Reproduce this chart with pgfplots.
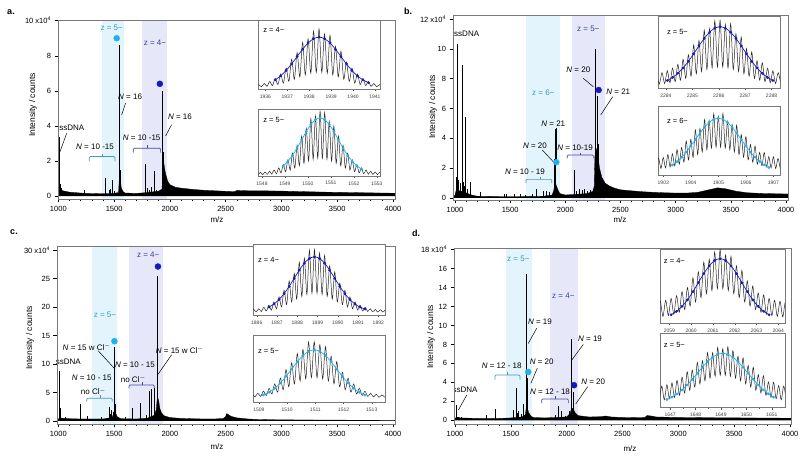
\documentclass[border=0pt]{standalone}
\usepackage{pgfplots}
\pgfplotsset{compat=1.18}
\usepackage{fontspec}
\setmainfont{Liberation Sans}
\definecolor{cyanband}{RGB}{228,244,252}
\definecolor{navyband}{RGB}{230,232,250}
\definecolor{cyandot}{RGB}{35,175,235}
\definecolor{navydot}{RGB}{25,25,185}
\definecolor{cyantxt}{RGB}{45,155,210}
\definecolor{navytxt}{RGB}{55,65,150}
\definecolor{cyanbr}{RGB}{70,150,200}
\definecolor{navybr}{RGB}{70,70,160}
\definecolor{frame}{RGB}{120,120,120}
\pgfplotsset{
 mainax/.style={scale only axis, anchor=south west, axis on top, clip=true,
  axis line style={frame, line width=0.7pt},
  tick align=outside, tick pos=left,
  major tick length=3.5pt, minor tick length=2pt,
  tick style={black, line width=0.5pt},
  xtick={1000,1500,...,4000}, minor x tick num=4,
  ticklabel style={font=\fontsize{7.5}{9}\selectfont},
  /pgf/number format/assume math mode=true,
  /pgf/number format/1000 sep={}},
 inset/.style={scale only axis, anchor=south west, clip=true,
  axis background/.style={fill=white},
  axis line style={frame, line width=0.9pt},
  tick align=outside, xtick pos=bottom, ytick=\empty,
  major tick length=2pt, minor tick length=1.2pt, minor x tick num=1,
  tick style={black!70, line width=0.4pt},
  ticklabel style={font=\fontsize{5}{6}\selectfont, text=black!75},
  /pgf/number format/assume math mode=true,
  /pgf/number format/1000 sep={},
  ymin=0, ymax=1},
 trace/.style={black!85, line width=0.5pt, smooth, mark=none},
 envn/.style={navydot, line width=0.7pt, smooth, mark=*, mark size=1pt, mark options={fill=navydot, draw=navydot}},
 envc/.style={cyandot, line width=0.7pt, smooth, mark=*, mark size=1pt, mark options={fill=cyandot, draw=cyandot}},
 spec/.style={fill=black, draw=black, line width=0.3pt, mark=none},
 peaks/.style={ycomb, black, line width=0.75pt, mark=none},
 band/.style={draw=none, mark=none, forget plot},
}
\tikzset{
 lab/.style={font=\fontsize{8}{9.6}\selectfont, inner sep=0.5pt},
 ilab/.style={font=\fontsize{7.5}{9}\selectfont, inner sep=0pt, anchor=west},
 ld/.style={black, line width=0.5pt},
 brc/.style={cyanbr, line width=0.7pt, rounded corners=1pt},
 brn/.style={navybr, line width=0.7pt, rounded corners=1pt},
}
\begin{document}
\begin{tikzpicture}
\useasboundingbox (0pt,0pt) rectangle (803pt,457pt);

% ================= PANEL A =================
\begin{axis}[mainax, at={(58pt,258pt)}, width=337pt, height=179pt,
 xmin=997, xmax=4018, ymin=-0.17, ymax=10.04,
 ytick={0,2,4,6,8,10}, yticklabels={0,2,4,6,8,{10 x10\textsuperscript{4}}}]
\addplot[band, fill=cyanband] coordinates {(1394,-0.17) (1394,10.04) (1591,10.04) (1591,-0.17)};
\addplot[band, fill=navyband] coordinates {(1752,-0.17) (1752,10.04) (1970,10.04) (1970,-0.17)};
\addplot[spec] coordinates {(997,0) (1000,0.3) (1005,0.45) (1020,0.35) (1040,0.3) (1100,0.22) (1200,0.17) (1300,0.14) (1400,0.13) (1500,0.15) (1540,0.2) (1548,1.2) (1555,0.9) (1565,0.45) (1580,0.25) (1600,0.17) (1700,0.15) (1800,0.2) (1900,0.28) (1930,0.4) (1937,2.3) (1945,1.9) (1960,1.3) (1980,0.85) (2000,0.65) (2050,0.5) (2100,0.45) (2200,0.38) (2300,0.33) (2400,0.3) (2500,0.27) (2580,0.25) (2600,0.32) (2700,0.3) (2800,0.3) (2900,0.29) (3000,0.28) (3200,0.25) (3400,0.22) (3600,0.2) (3800,0.18) (4000,0.16) (4018,0.16) (4018,0)};
\addplot[peaks] coordinates {(1010,3.35) (1018,0.7) (1030,0.45) (1230,0.35) (1420,1.05) (1455,0.35) (1470,0.4) (1484,0.92) (1500,0.3) (1545,8.6) (1552,1.5) (1776,1.8) (1800,0.45) (1820,0.35) (1835,0.5) (1857,1.4) (1875,0.35) (1900,0.3) (1937,6.0) (1942,2.5)};
\addplot[only marks, mark=*, mark size=3pt, cyandot] coordinates {(1523,9.0)};
\addplot[only marks, mark=*, mark size=3pt, navydot] coordinates {(1910,6.4)};
\node[lab,text=cyantxt] at (axis cs:1478,9.58) {z = 5−};
\node[lab,text=navytxt] at (axis cs:1866,8.72) {z = 4−};
\node[lab] at (axis cs:1643,5.67) {\textit{N} = 16};
\draw[ld] (axis cs:1603,5.3) -- (axis cs:1568,4.63);
\node[lab] at (axis cs:2090,4.5) {\textit{N} = 16};
\draw[ld] (axis cs:2015,4.06) -- (axis cs:1962,3.43);
\node[lab] at (axis cs:1120,3.87) {ssDNA};
\draw[ld] (axis cs:1075,3.58) -- (axis cs:1015,2.53);
\node[lab] at (axis cs:1329,2.82) {\textit{N} = 10 -15};
\draw[brc] (axis cs:1278,1.97) -- (axis cs:1278,2.25) -- (axis cs:1508,2.25) -- (axis cs:1508,1.97);
\draw[brc] (axis cs:1393,2.25) -- (axis cs:1393,2.42);
\node[lab] at (axis cs:1747,3.3) {\textit{N} = 10 -15};
\draw[brn] (axis cs:1671,2.47) -- (axis cs:1671,2.72) -- (axis cs:1917,2.72) -- (axis cs:1917,2.47);
\draw[brn] (axis cs:1794,2.72) -- (axis cs:1794,2.9);
\end{axis}

\begin{axis}[inset, at={(258.3pt,367.7pt)}, width=121.7pt, height=68.6pt, xmin=1935.68, xmax=1941.23, xtick={1936,1937,1938,1939,1940,1941}]
\addplot[trace] coordinates {(1935.575,0.03)(1935.70,0.068)(1935.825,0.037)(1935.95,0.085)(1936.075,0.044)(1936.20,0.114)(1936.325,0.054)(1936.45,0.158)(1936.575,0.069)(1936.70,0.223)(1936.825,0.090)(1936.95,0.310)(1937.075,0.116)(1937.20,0.436)(1937.325,0.147)(1937.45,0.535)(1937.575,0.180)(1937.70,0.684)(1937.825,0.210)(1937.95,0.736)(1938.075,0.234)(1938.20,0.845)(1938.325,0.247)(1938.45,0.88)(1938.575,0.247)(1938.70,0.805)(1938.825,0.234)(1938.95,0.786)(1939.075,0.210)(1939.20,0.624)(1939.325,0.180)(1939.45,0.555)(1939.575,0.147)(1939.70,0.396)(1939.825,0.116)(1939.95,0.310)(1940.075,0.090)(1940.20,0.223)(1940.325,0.069)(1940.45,0.158)(1940.575,0.054)(1940.70,0.114)(1940.825,0.044)(1940.95,0.085)(1941.075,0.037)(1941.20,0.068)(1941.325,0.03)};
\addplot[envn] coordinates {(1936.45,0.137)(1936.70,0.196)(1936.95,0.274)(1937.20,0.370)(1937.45,0.477)(1937.70,0.583)(1937.95,0.675)(1938.20,0.738)(1938.45,0.76)(1938.70,0.738)(1938.95,0.675)(1939.20,0.583)(1939.45,0.477)(1939.70,0.370)(1939.95,0.274)(1940.20,0.196)(1940.45,0.137)(1940.70,0.097)};
\node[ilab] at (rel axis cs:0.04,0.86) {z = 4−};
\end{axis}

\begin{axis}[inset, at={(258.3pt,281pt)}, width=121.7pt, height=66.7pt, xmin=1547.84, xmax=1553.14, xtick={1548,1549,1550,1551,1552,1553}]
\addplot[trace] coordinates {(1547.63,0.02)(1547.73,0.05)(1547.83,0.02)(1547.93,0.055)(1548.03,0.02)(1548.13,0.06)(1548.23,0.024)(1548.33,0.071)(1548.43,0.028)(1548.53,0.090)(1548.63,0.035)(1548.73,0.122)(1548.83,0.047)(1548.93,0.172)(1549.03,0.064)(1549.13,0.245)(1549.23,0.088)(1549.33,0.342)(1549.43,0.118)(1549.53,0.462)(1549.63,0.153)(1549.73,0.596)(1549.83,0.190)(1549.93,0.71)(1550.03,0.225)(1550.13,0.86)(1550.23,0.251)(1550.33,0.90)(1550.43,0.266)(1550.53,0.97)(1550.63,0.266)(1550.73,0.95)(1550.83,0.251)(1550.93,0.82)(1551.03,0.225)(1551.13,0.75)(1551.23,0.190)(1551.33,0.596)(1551.43,0.153)(1551.53,0.462)(1551.63,0.118)(1551.73,0.342)(1551.83,0.088)(1551.93,0.245)(1552.03,0.064)(1552.13,0.172)(1552.23,0.047)(1552.33,0.122)(1552.43,0.035)(1552.53,0.090)(1552.63,0.028)(1552.73,0.071)(1552.83,0.024)(1552.93,0.06)(1553.03,0.02)(1553.13,0.055)(1553.23,0.02)};
\addplot[envc] coordinates {(1548.93,0.152)(1549.13,0.220)(1549.33,0.310)(1549.53,0.420)(1549.73,0.543)(1549.93,0.666)(1550.13,0.772)(1550.33,0.844)(1550.53,0.87)(1550.73,0.844)(1550.93,0.772)(1551.13,0.666)(1551.33,0.543)(1551.53,0.420)(1551.73,0.310)(1551.93,0.220)(1552.13,0.152)(1552.33,0.106)};
\node[ilab] at (rel axis cs:0.04,0.84) {z = 5−};
\end{axis}

% ================= PANEL B =================
\begin{axis}[mainax, at={(453pt,257pt)}, width=335pt, height=185pt,
 xmin=982, xmax=4018, ymin=-0.134, ymax=12.27,
 ytick={0,2,4,6,8,10,12}, yticklabels={0,2,4,6,8,10,{12 x10\textsuperscript{4}}}]
\addplot[band, fill=cyanband] coordinates {(1644,-0.134) (1644,12.27) (1952,12.27) (1952,-0.134)};
\addplot[band, fill=navyband] coordinates {(2063,-0.134) (2063,12.27) (2360,12.27) (2360,-0.134)};
\addplot[spec] coordinates {(982,0) (1000,0.2) (1010,0.5) (1030,0.5) (1060,0.45) (1100,0.35) (1150,0.2) (1200,0.12) (1400,0.1) (1600,0.1) (1800,0.12) (1880,0.2) (1895,0.5) (1905,1.0) (1915,0.9) (1930,0.6) (1950,0.3) (2000,0.2) (2100,0.25) (2200,0.3) (2250,0.45) (2262,0.8) (2268,2.8) (2280,3.3) (2295,2.8) (2310,2.0) (2330,1.4) (2360,1.0) (2400,0.8) (2450,0.65) (2500,0.55) (2600,0.48) (2700,0.42) (2800,0.38) (2900,0.35) (3000,0.33) (3100,0.33) (3200,0.38) (3300,0.55) (3380,0.68) (3450,0.62) (3550,0.45) (3650,0.35) (3800,0.3) (4000,0.27) (4018,0.27) (4018,0)};
\addplot[peaks] coordinates {(1015,1.4) (1024,10.3) (1035,1.2) (1045,1.0) (1063,8.9) (1075,1.1) (1085,0.8) (1097,5.45) (1110,0.6) (1136,1.1) (1227,0.42) (1444,0.3) (1468,0.25) (1537,0.3) (1589,0.3) (1640,0.2) (1700,0.3) (1740,0.6) (1800,0.45) (1831,0.5) (1855,0.4) (1898,2.6) (1912,4.6) (2078,1.85) (2100,0.5) (2130,0.6) (2154,0.55) (2175,0.6) (2200,0.5) (2230,0.55) (2250,0.6) (2270,10.0) (2287,6.85) (2296,3.6)};
\addplot[only marks, mark=*, mark size=3pt, cyandot] coordinates {(1918,2.4)};
\addplot[only marks, mark=*, mark size=3pt, navydot] coordinates {(2302,7.24)};
\node[lab] at (axis cs:1106,11.0) {ssDNA};
\node[lab,text=cyantxt] at (axis cs:1800,7.08) {z = 6−};
\node[lab,text=navytxt] at (axis cs:2208,11.37) {z = 5−};
\node[lab] at (axis cs:2118,8.58) {\textit{N} = 20};
\draw[ld] (axis cs:2163,8.02) -- (axis cs:2254,7.46);
\node[lab] at (axis cs:2480,7.12) {\textit{N} = 21};
\draw[ld] (axis cs:2429,6.79) -- (axis cs:2320,5.56);
\node[lab] at (axis cs:1891,5.0) {\textit{N} = 21};
\draw[ld] (axis cs:1922,4.71) -- (axis cs:1922,2.55);
\node[lab] at (axis cs:1725,3.49) {\textit{N} = 20};
\draw[ld] (axis cs:1791,3.22) -- (axis cs:1891,2.43);
\node[lab] at (axis cs:2088,3.4) {\textit{N} = 10-19};
\draw[brn] (axis cs:2018,2.65) -- (axis cs:2018,2.88) -- (axis cs:2254,2.88) -- (axis cs:2254,2.65);
\draw[brn] (axis cs:2133,2.88) -- (axis cs:2133,3.05);
\node[lab] at (axis cs:1634,1.76) {\textit{N} = 10 - 19};
\draw[brc] (axis cs:1644,1.0) -- (axis cs:1644,1.25) -- (axis cs:1877,1.25) -- (axis cs:1877,1.0);
\draw[brc] (axis cs:1770,1.25) -- (axis cs:1770,1.42);
\end{axis}

\begin{axis}[inset, at={(658.3pt,368.7pt)}, width=121.7pt, height=71.6pt, xmin=2283.71, xmax=2288.32, xtick={2284,2285,2286,2287,2288}]
\addplot[trace] coordinates {(2283.55,0.055)(2283.65,0.201)(2283.75,0.060)(2283.85,0.218)(2283.95,0.067)(2284.05,0.244)(2284.15,0.078)(2284.25,0.281)(2284.35,0.093)(2284.45,0.335)(2284.55,0.113)(2284.65,0.404)(2284.75,0.139)(2284.85,0.468)(2284.95,0.169)(2285.05,0.605)(2285.15,0.202)(2285.25,0.665)(2285.35,0.234)(2285.45,0.811)(2285.55,0.263)(2285.65,0.830)(2285.75,0.285)(2285.85,0.942)(2285.95,0.297)(2286.05,0.95)(2286.15,0.297)(2286.25,0.892)(2286.35,0.285)(2286.45,0.90)(2286.55,0.263)(2286.65,0.761)(2286.75,0.234)(2286.85,0.715)(2286.95,0.202)(2287.05,0.555)(2287.15,0.169)(2287.25,0.508)(2287.35,0.139)(2287.45,0.384)(2287.55,0.113)(2287.65,0.355)(2287.75,0.093)(2287.85,0.281)(2287.95,0.078)(2288.05,0.244)(2288.15,0.067)(2288.25,0.218)(2288.35,0.060)};
\addplot[envn] coordinates {(2284.05,0.109)(2284.25,0.151)(2284.45,0.209)(2284.65,0.285)(2284.85,0.377)(2285.05,0.482)(2285.25,0.593)(2285.45,0.697)(2285.65,0.783)(2285.85,0.840)(2286.05,0.86)(2286.25,0.840)(2286.45,0.783)(2286.65,0.697)(2286.85,0.593)(2287.05,0.482)(2287.25,0.377)(2287.45,0.285)(2287.65,0.209)(2287.85,0.151)(2288.05,0.109)};
\node[ilab] at (rel axis cs:0.07,0.79) {z = 5−};
\end{axis}

\begin{axis}[inset, at={(658.3pt,282pt)}, width=121.7pt, height=68.3pt, xmin=1902.82, xmax=1907.24, xtick={1903,1904,1905,1906,1907}]
\addplot[trace] coordinates {(1902.75,0.089)(1902.833,0.242)(1902.917,0.095)(1903.0,0.257)(1903.083,0.104)(1903.167,0.299)(1903.25,0.117)(1903.333,0.309)(1903.417,0.135)(1903.5,0.371)(1903.583,0.159)(1903.667,0.403)(1903.75,0.188)(1903.833,0.498)(1903.917,0.222)(1904.0,0.521)(1904.083,0.260)(1904.167,0.660)(1904.25,0.300)(1904.333,0.679)(1904.417,0.338)(1904.5,0.811)(1904.583,0.370)(1904.667,0.799)(1904.75,0.394)(1904.833,0.897)(1904.917,0.407)(1905.0,0.86)(1905.083,0.407)(1905.167,0.90)(1905.25,0.394)(1905.333,0.789)(1905.417,0.370)(1905.5,0.741)(1905.583,0.338)(1905.667,0.729)(1905.75,0.300)(1905.833,0.590)(1905.917,0.260)(1906.0,0.561)(1906.083,0.222)(1906.167,0.448)(1906.25,0.188)(1906.333,0.423)(1906.417,0.159)(1906.5,0.331)(1906.583,0.135)(1906.667,0.329)(1906.75,0.117)(1906.833,0.269)(1906.917,0.104)(1907.0,0.267)(1907.083,0.095)(1907.167,0.242)(1907.25,0.089)};
\addplot[envc] coordinates {(1903.333,0.147)(1903.5,0.196)(1903.667,0.260)(1903.833,0.336)(1904.0,0.425)(1904.167,0.519)(1904.333,0.614)(1904.5,0.700)(1904.667,0.769)(1904.833,0.814)(1905.0,0.83)(1905.167,0.814)(1905.333,0.769)(1905.5,0.700)(1905.667,0.614)(1905.833,0.519)(1906.0,0.425)(1906.167,0.336)(1906.333,0.260)(1906.5,0.196)(1906.667,0.147)(1906.833,0.110)};
\node[ilab] at (rel axis cs:0.07,0.795) {z = 6−};
\end{axis}

% ================= PANEL C =================
\begin{axis}[mainax, at={(57pt,33pt)}, width=338pt, height=178pt,
 xmin=988, xmax=4018, ymin=-0.53, ymax=30.7,
 ytick={0,5,10,15,20,25,30}, yticklabels={0,5,10,15,20,25,{30 x10\textsuperscript{4}}}]
\addplot[band, fill=cyanband] coordinates {(1299,-0.53) (1299,30.7) (1528,30.7) (1528,-0.53)};
\addplot[band, fill=navyband] coordinates {(1636,-0.53) (1636,30.7) (1935,30.7) (1935,-0.53)};
\addplot[spec] coordinates {(988,0) (1000,0.3) (1010,0.6) (1030,0.5) (1100,0.4) (1200,0.35) (1400,0.35) (1480,0.6) (1495,1.2) (1503,2.0) (1512,1.4) (1530,0.7) (1560,0.4) (1700,0.35) (1800,0.5) (1860,1.0) (1878,2.0) (1888,4.3) (1900,3.5) (1910,2.2) (1925,1.4) (1950,0.9) (2000,0.6) (2100,0.45) (2200,0.4) (2300,0.35) (2400,0.35) (2480,0.45) (2500,0.8) (2510,1.3) (2525,1.1) (2550,0.8) (2600,0.55) (2700,0.35) (2800,0.25) (3000,0.2) (3500,0.15) (4000,0.12) (4018,0.12) (4018,0)};
\addplot[peaks] coordinates {(1009,8.8) (1015,2.3) (1060,0.7) (1194,2.9) (1260,0.8) (1388,0.7) (1440,0.6) (1457,2.5) (1470,1.3) (1478,2.0) (1492,1.5) (1505,13.0) (1512,3.0) (1600,0.7) (1666,2.2) (1738,3.1) (1790,1.0) (1815,5.3) (1836,5.6) (1857,5.7) (1884,25.4) (1892,4.5) (2507,1.3)};
\addplot[only marks, mark=*, mark size=3pt, cyandot] coordinates {(1503,14.0)};
\addplot[only marks, mark=*, mark size=3pt, navydot] coordinates {(1893,27.1)};
\node[lab,text=cyantxt] at (axis cs:1418,18.6) {z = 5−};
\node[lab,text=navytxt] at (axis cs:1806,29.2) {z = 4−};
\node[lab] at (axis cs:1090,10.4) {ssDNA};
\node[lab] at (axis cs:1254,13.0) {\textit{N} = 15 w Cl$^{-}$};
\draw[ld] (axis cs:1358,12.3) -- (axis cs:1501,9.25);
\node[lab] at (axis cs:1299,7.5) {\textit{N} = 10 - 15};
\node[lab] at (axis cs:1314,5.14) {no Cl$^{-}$};
\draw[brc] (axis cs:1254,3.4) -- (axis cs:1254,3.98) -- (axis cs:1483,3.98) -- (axis cs:1483,3.4);
\draw[brc] (axis cs:1373,3.98) -- (axis cs:1373,4.5);
\node[lab] at (axis cs:1687,9.82) {\textit{N} = 10 - 15};
\node[lab] at (axis cs:1672,7.3) {no Cl$^{-}$};
\draw[brn] (axis cs:1633,5.7) -- (axis cs:1633,6.3) -- (axis cs:1860,6.3) -- (axis cs:1860,5.7);
\draw[brn] (axis cs:1752,6.3) -- (axis cs:1752,6.8);
\node[lab] at (axis cs:2089,12.45) {\textit{N} = 15 w Cl$^{-}$};
\draw[ld] (axis cs:2015,11.6) -- (axis cs:1890,8.1);
\end{axis}

\begin{axis}[inset, at={(253.3pt,142pt)}, width=131.7pt, height=71pt, xmin=1885.83, xmax=1892.33, xtick={1886,1887,1888,1889,1890,1891,1892}]
\addplot[trace] coordinates {(1885.725,0.042)(1885.85,0.079)(1885.975,0.044)(1886.10,0.089)(1886.225,0.049)(1886.35,0.107)(1886.475,0.057)(1886.60,0.138)(1886.725,0.069)(1886.85,0.185)(1886.975,0.088)(1887.10,0.254)(1887.225,0.113)(1887.35,0.346)(1887.475,0.146)(1887.60,0.479)(1887.725,0.184)(1887.85,0.586)(1887.975,0.224)(1888.10,0.742)(1888.225,0.261)(1888.35,0.800)(1888.475,0.290)(1888.60,0.914)(1888.725,0.306)(1888.85,0.92)(1888.975,0.306)(1889.10,0.874)(1889.225,0.290)(1889.35,0.840)(1889.475,0.261)(1889.60,0.692)(1889.725,0.224)(1889.85,0.606)(1889.975,0.184)(1890.10,0.449)(1890.225,0.146)(1890.35,0.346)(1890.475,0.113)(1890.60,0.254)(1890.725,0.088)(1890.85,0.185)(1890.975,0.069)(1891.10,0.138)(1891.225,0.057)(1891.35,0.107)(1891.475,0.049)(1891.60,0.089)(1891.725,0.044)(1891.85,0.079)(1891.975,0.042)(1892.10,0.074)(1892.225,0.042)(1892.35,0.072)};
\addplot[envn] coordinates {(1886.60,0.111)(1886.85,0.154)(1887.10,0.217)(1887.35,0.300)(1887.60,0.403)(1887.85,0.517)(1888.10,0.631)(1888.35,0.730)(1888.60,0.796)(1888.85,0.82)(1889.10,0.796)(1889.35,0.730)(1889.60,0.631)(1889.85,0.517)(1890.10,0.403)(1890.35,0.300)(1890.60,0.217)(1890.85,0.154)(1891.10,0.111)(1891.35,0.084)};
\node[ilab] at (rel axis cs:0.035,0.77) {z = 4−};
\end{axis}

\begin{axis}[inset, at={(253.3pt,54.7pt)}, width=131.7pt, height=67.3pt, xmin=1508.8, xmax=1513.47, xtick={1509,1510,1511,1512,1513}]
\addplot[trace] coordinates {(1508.66,0.075)(1508.76,0.118)(1508.86,0.080)(1508.96,0.135)(1509.06,0.088)(1509.16,0.164)(1509.26,0.102)(1509.36,0.208)(1509.46,0.123)(1509.56,0.273)(1509.66,0.151)(1509.76,0.360)(1509.86,0.187)(1509.96,0.486)(1510.06,0.230)(1510.16,0.585)(1510.26,0.274)(1510.36,0.724)(1510.46,0.316)(1510.56,0.786)(1510.66,0.348)(1510.76,0.895)(1510.86,0.366)(1510.96,0.90)(1511.06,0.366)(1511.16,0.855)(1511.26,0.348)(1511.36,0.826)(1511.46,0.316)(1511.56,0.684)(1511.66,0.274)(1511.76,0.605)(1511.86,0.230)(1511.96,0.446)(1512.06,0.187)(1512.16,0.360)(1512.26,0.151)(1512.36,0.273)(1512.46,0.123)(1512.56,0.208)(1512.66,0.102)(1512.76,0.164)(1512.86,0.088)(1512.96,0.135)(1513.06,0.080)(1513.16,0.118)(1513.26,0.075)(1513.36,0.109)(1513.46,0.075)};
\addplot[envc] coordinates {(1509.16,0.108)(1509.36,0.149)(1509.56,0.208)(1509.76,0.287)(1509.96,0.384)(1510.16,0.493)(1510.36,0.601)(1510.56,0.694)(1510.76,0.757)(1510.96,0.78)(1511.16,0.757)(1511.36,0.694)(1511.56,0.601)(1511.76,0.493)(1511.96,0.384)(1512.16,0.287)(1512.36,0.208)(1512.56,0.149)(1512.76,0.108)};
\node[ilab] at (rel axis cs:0.035,0.76) {z = 5−};
\end{axis}

% ================= PANEL D =================
\begin{axis}[mainax, at={(454pt,33pt)}, width=337pt, height=176pt,
 xmin=991, xmax=4009, ymin=-0.39, ymax=18.17,
 ytick={0,2,4,6,8,10,12,14,16,18}, yticklabels={0,2,4,6,8,10,12,14,16,{18 x10\textsuperscript{4}}}]
\addplot[band, fill=cyanband] coordinates {(1457,-0.39) (1457,18.17) (1687,18.17) (1687,-0.39)};
\addplot[band, fill=navyband] coordinates {(1851,-0.39) (1851,18.17) (2104,18.17) (2104,-0.39)};
\addplot[spec] coordinates {(991,0) (1000,0.2) (1015,0.35) (1050,0.25) (1200,0.2) (1400,0.2) (1500,0.25) (1600,0.35) (1630,0.6) (1640,1.5) (1650,1.2) (1660,0.8) (1680,0.45) (1700,0.3) (1800,0.25) (1900,0.3) (2000,0.35) (2030,0.7) (2045,1.3) (2060,1.2) (2075,0.8) (2100,0.5) (2200,0.35) (2300,0.38) (2350,0.45) (2400,0.35) (2500,0.3) (2600,0.28) (2700,0.3) (2720,0.5) (2760,0.45) (2800,0.35) (3000,0.3) (3300,0.27) (3600,0.25) (4000,0.22) (4009,0.22) (4009,0)};
\addplot[peaks] coordinates {(1015,1.6) (1030,0.4) (1060,0.3) (1284,0.55) (1358,1.16) (1522,1.08) (1546,3.37) (1560,0.8) (1567,1.0) (1597,0.7) (1612,1.7) (1636,15.4) (1645,4.5) (1896,0.6) (1925,1.5) (1949,1.0) (1985,0.5) (2021,1.0) (2045,8.6) (2063,3.0)};
\addplot[only marks, mark=*, mark size=3pt, cyandot] coordinates {(1656,5.1)};
\addplot[only marks, mark=*, mark size=3pt, navydot] coordinates {(2066,3.7)};
\node[lab,text=cyantxt] at (axis cs:1567,17.0) {z = 5−};
\node[lab,text=navytxt] at (axis cs:1970,13.1) {z = 4−};
\node[lab] at (axis cs:1761,10.4) {\textit{N} = 19};
\draw[ld] (axis cs:1731,9.7) -- (axis cs:1656,8.1);
\node[lab] at (axis cs:1776,6.2) {\textit{N} = 20};
\draw[ld] (axis cs:1737,5.5) -- (axis cs:1680,3.9);
\node[lab] at (axis cs:1418,5.7) {\textit{N} = 12 - 18};
\draw[brc] (axis cs:1358,4.3) -- (axis cs:1358,4.77) -- (axis cs:1582,4.77) -- (axis cs:1582,4.3);
\draw[brc] (axis cs:1472,4.77) -- (axis cs:1472,5.1);
\node[lab] at (axis cs:1851,3.0) {\textit{N} = 12 - 18};
\draw[brn] (axis cs:1776,1.8) -- (axis cs:1776,2.24) -- (axis cs:2015,2.24) -- (axis cs:2015,1.8);
\draw[brn] (axis cs:1895,2.24) -- (axis cs:1895,2.55);
\node[lab] at (axis cs:2209,8.6) {\textit{N} = 19};
\draw[ld] (axis cs:2149,8.0) -- (axis cs:2045,6.35);
\node[lab] at (axis cs:2238,4.06) {\textit{N} = 20};
\draw[ld] (axis cs:2188,3.54) -- (axis cs:2081,1.72);
\node[lab] at (axis cs:1090,3.19) {ssDNA};
\draw[ld] (axis cs:1105,2.66) -- (axis cs:1030,1.08);
\end{axis}

\begin{axis}[inset, at={(660pt,133.7pt)}, width=125pt, height=74.3pt, xmin=2058.57, xmax=2064.31, xtick={2059,2060,2061,2062,2063,2064}]
\addplot[trace] coordinates {(2058.455,0.087)(2058.58,0.296)(2058.705,0.093)(2058.83,0.310)(2058.955,0.104)(2059.08,0.334)(2059.205,0.122)(2059.33,0.372)(2059.455,0.149)(2059.58,0.427)(2059.705,0.186)(2059.83,0.481)(2059.955,0.232)(2060.08,0.611)(2060.205,0.287)(2060.33,0.692)(2060.455,0.346)(2060.58,0.823)(2060.705,0.399)(2060.83,0.860)(2060.955,0.441)(2061.08,0.959)(2061.205,0.464)(2061.33,0.99)(2061.455,0.464)(2061.58,0.919)(2061.705,0.441)(2061.83,0.900)(2061.955,0.399)(2062.08,0.773)(2062.205,0.346)(2062.33,0.712)(2062.455,0.287)(2062.58,0.571)(2062.705,0.232)(2062.83,0.501)(2062.955,0.186)(2063.08,0.407)(2063.205,0.149)(2063.33,0.382)(2063.455,0.122)(2063.58,0.334)(2063.705,0.104)(2063.83,0.310)(2063.955,0.093)(2064.08,0.296)(2064.205,0.087)(2064.33,0.288)(2064.455,0.087)};
\addplot[envn] coordinates {(2059.08,0.115)(2059.33,0.161)(2059.58,0.227)(2059.83,0.316)(2060.08,0.425)(2060.33,0.547)(2060.58,0.669)(2060.83,0.774)(2061.08,0.845)(2061.33,0.87)(2061.58,0.845)(2061.83,0.774)(2062.08,0.669)(2062.33,0.547)(2062.58,0.425)(2062.83,0.316)(2063.08,0.227)(2063.33,0.161)(2063.58,0.115)};
\node[ilab] at (rel axis cs:0.03,0.84) {z = 4−};
\end{axis}

\begin{axis}[inset, at={(660pt,49.3pt)}, width=125pt, height=74.4pt, xmin=1646.6, xmax=1651.52, xtick={1647,1648,1649,1650,1651}]
\addplot[trace] coordinates {(1646.57,0.096)(1646.67,0.290)(1646.77,0.106)(1646.87,0.308)(1646.97,0.120)(1647.07,0.333)(1647.17,0.140)(1647.27,0.367)(1647.37,0.166)(1647.47,0.410)(1647.57,0.198)(1647.67,0.483)(1647.77,0.235)(1647.87,0.503)(1647.97,0.277)(1648.07,0.608)(1648.17,0.320)(1648.27,0.632)(1648.37,0.361)(1648.47,0.741)(1648.57,0.396)(1648.67,0.738)(1648.77,0.422)(1648.87,0.809)(1648.97,0.436)(1649.07,0.79)(1649.17,0.436)(1649.27,0.819)(1649.37,0.422)(1649.47,0.768)(1649.57,0.396)(1649.67,0.691)(1649.77,0.361)(1649.87,0.672)(1649.97,0.320)(1650.07,0.568)(1650.17,0.277)(1650.27,0.543)(1650.37,0.235)(1650.47,0.443)(1650.57,0.198)(1650.67,0.430)(1650.77,0.166)(1650.87,0.347)(1650.97,0.140)(1651.07,0.343)(1651.17,0.120)(1651.27,0.298)(1651.37,0.106)(1651.47,0.290)(1651.57,0.096)};
\addplot[envc] coordinates {(1646.87,0.110)(1647.07,0.142)(1647.27,0.185)(1647.47,0.239)(1647.67,0.305)(1647.87,0.381)(1648.07,0.462)(1648.27,0.544)(1648.47,0.618)(1648.67,0.678)(1648.87,0.717)(1649.07,0.73)(1649.27,0.717)(1649.47,0.678)(1649.67,0.618)(1649.87,0.544)(1650.07,0.462)(1650.27,0.381)(1650.47,0.305)(1650.67,0.239)(1650.87,0.185)(1651.07,0.142)};
\node[ilab] at (rel axis cs:0.03,0.84) {z = 5−};
\end{axis}

% ================= labels =================
\node[font=\bfseries\fontsize{9}{10}\selectfont] at (11pt,444.5pt) {a.};
\node[font=\bfseries\fontsize{9}{10}\selectfont] at (408pt,446pt) {b.};
\node[font=\bfseries\fontsize{9}{10}\selectfont] at (14pt,225pt) {c.};
\node[font=\bfseries\fontsize{9}{10}\selectfont] at (416pt,224pt) {d.};
\node[rotate=90, font=\fontsize{8.5}{10}\selectfont] at (33pt,352pt) {Intensity / counts};
\node[rotate=90, font=\fontsize{8.5}{10}\selectfont] at (433pt,350pt) {Intensity / counts};
\node[rotate=90, font=\fontsize{8.5}{10}\selectfont] at (30pt,119pt) {Intensity / counts};
\node[rotate=90, font=\fontsize{8.5}{10}\selectfont] at (431pt,120pt) {Intensity / counts};
\node[font=\fontsize{8}{9}\selectfont] at (217pt,237pt) {m/z};
\node[font=\fontsize{8}{9}\selectfont] at (620pt,237pt) {m/z};
\node[font=\fontsize{8}{9}\selectfont] at (217pt,10pt) {m/z};
\node[font=\fontsize{8}{9}\selectfont] at (630pt,8pt) {m/z};
\end{tikzpicture}
\end{document}
